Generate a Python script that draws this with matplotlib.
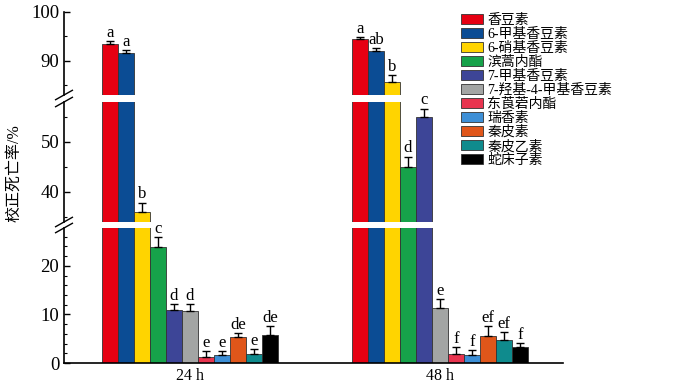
import matplotlib
matplotlib.use("Agg")
import matplotlib.pyplot as plt
import numpy as np

plt.rcParams['font.family'] = ['Liberation Serif', 'Noto Sans CJK SC']

# data
groups = ["24 h", "48 h"]
names = ["香豆素", "6-甲基香豆素", "6-硝基香豆素", "滨蒿内酯", "7-甲基香豆素",
         "7-羟基-4-甲基香豆素", "东莨菪内酯", "瑞香素", "秦皮素", "秦皮乙素", "蛇床子素"]
colors = ["#E60012", "#0B4C94", "#FFD400", "#16A24A", "#3D4597", "#A3A5A4",
          "#E8344F", "#3D8FD6", "#E0561A", "#0F8B8D", "#000000"]
vals_24 = [93.5, 91.6, 36.1, 23.9, 10.9, 10.7, 1.3, 1.7, 5.3, 1.9, 5.8]
err_24 = [0.6, 0.6, 1.8, 2.0, 1.3, 1.5, 1.2, 0.7, 0.9, 1.0, 1.9]
let_24 = ["a", "a", "b", "c", "d", "d", "e", "e", "de", "e", "de"]
vals_48 = [94.4, 92.1, 85.8, 45.1, 55.1, 11.3, 1.8, 1.7, 5.6, 4.7, 3.2]
err_48 = [0.5, 0.6, 1.4, 2.0, 1.6, 1.8, 1.5, 0.9, 2.0, 1.7, 1.0]
let_48 = ["a", "ab", "b", "d", "c", "e", "f", "f", "ef", "ef", "f"]

vals = np.array([vals_24, vals_48])
errs = np.array([err_24, err_48])
lets = [let_24, let_48]

fig = plt.figure(figsize=(7, 3.92), dpi=100)
L, R = 64 / 700, 563 / 700
def box(top_px, bot_px):
    return [L, 1 - bot_px / 392, R - L, (bot_px - top_px) / 392]

ax_top = fig.add_axes(box(12, 95))
ax_mid = fig.add_axes(box(102, 222))
ax_bot = fig.add_axes(box(228, 363))
axes = [ax_top, ax_mid, ax_bot]
ax_top.set_ylim(83.06, 100)
ax_mid.set_ylim(34, 58)
ax_bot.set_ylim(0, 27.8)

w = 0.064
x0 = np.arange(len(groups))
for ax in axes:
    for i in range(len(names)):
        xs = x0 + (i - 5) * w
        ax.bar(xs, vals[:, i], w, color=colors[i], edgecolor="#333333",
               linewidth=0.6, label=names[i], zorder=2)
        ax.errorbar(xs, vals[:, i], yerr=[np.zeros(2), errs[:, i]], fmt="none",
                    ecolor="black", elinewidth=1, capsize=3, capthick=1, zorder=3)
    ax.set_xlim(-0.504, 1.492)
    for s in ["top", "right"]:
        ax.spines[s].set_visible(False)
    ax.spines["left"].set_linewidth(1.2)
    ax.tick_params(axis="y", direction="in", labelsize=13.5, length=4, width=1)
    ax.tick_params(axis="y", which="minor", direction="in", length=2, width=0.8)
    ax.tick_params(axis="x", length=0)

for ax in [ax_top, ax_mid]:
    ax.spines["bottom"].set_visible(False)
    ax.set_xticks([])

ax_top.set_yticks([90, 100])
ax_top.set_yticks([85, 95], minor=True)
ax_mid.set_yticks([40, 50])
ax_mid.set_yticks([35, 45, 55], minor=True)
ax_bot.set_yticks([0, 10, 20])
ax_bot.set_yticks(np.arange(2, 27, 2), minor=True)
ax_bot.spines["bottom"].set_linewidth(1.2)
ax_bot.set_xticks(x0)
ax_bot.set_xticklabels(groups, fontsize=11.5)

# significance letters
for g in range(len(groups)):
    for i in range(len(names)):
        v = vals[g, i]
        top = v + errs[g, i]
        ax = ax_top if v > 83 else (ax_mid if v > 34 else ax_bot)
        ax.annotate(lets[g][i], (x0[g] + (i - 5) * w, top), xytext=(0, 0),
                    textcoords="offset points", ha="center", va="bottom",
                    fontsize=12, annotation_clip=False)

# break marks
d = 0.012
kw = dict(color="black", linewidth=1, clip_on=False)
for ax, ypos in [(ax_top, 0), (ax_mid, 1), (ax_mid, 0), (ax_bot, 1)]:
    y = ax.transAxes.transform((0, ypos))[1]
    fy = y / fig.bbox.height
    fig.add_artist(plt.Line2D([L - d, L + d], [fy - 0.012, fy + 0.012],
                              transform=fig.transFigure, **kw))

fig.text(14 / 700, 1 - 173 / 392, "校正死亡率/%", rotation=90, ha="center",
         va="center", fontsize=11.5)

handles, labels = ax_bot.get_legend_handles_labels()
fig.legend(handles, labels, loc="upper left", bbox_to_anchor=(461 / 700, 1 - 14 / 392),
           frameon=False, fontsize=10, handlelength=1.6, handleheight=0.72,
           labelspacing=0.06, handletextpad=0.3, borderpad=0, borderaxespad=0)

fig.savefig("out.png", dpi=100)
